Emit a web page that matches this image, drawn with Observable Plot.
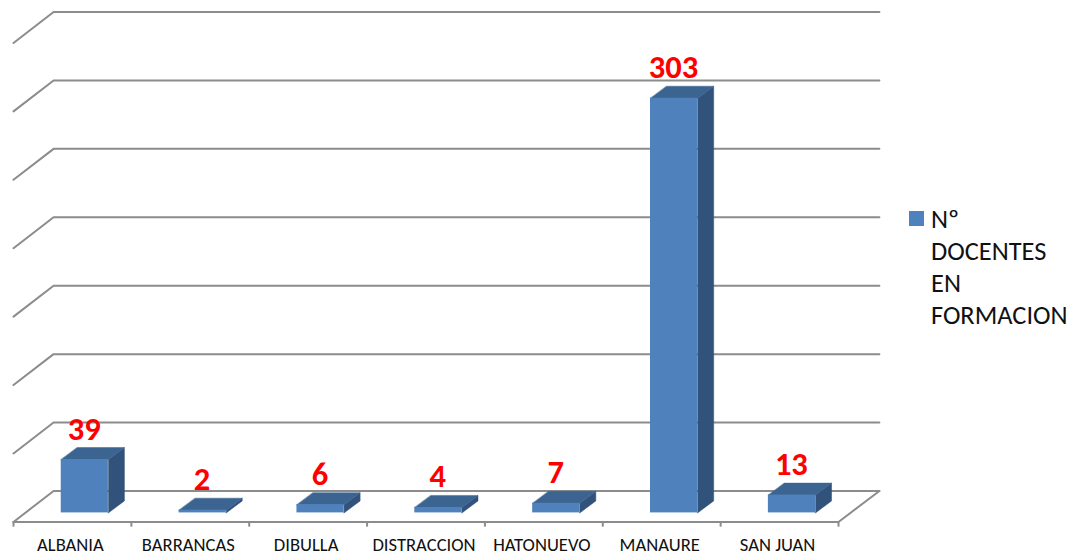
<!DOCTYPE html>
<html>
<head>
<meta charset="utf-8">
<script src="https://cdn.jsdelivr.net/npm/d3@7"></script>
<script src="https://cdn.jsdelivr.net/npm/@observablehq/plot@0.6"></script>
<style>
html,body{margin:0;padding:0;background:#fff;overflow:hidden}
#wrap{position:relative;width:1071px;height:557px}
#legend{position:absolute;left:909px;top:203px;font:26.4px/32px Carlito,Lato,sans-serif;color:#111;display:flex}
#legend i{display:block;width:15px;height:15px;background:#4F81BD;margin:8px 7px 0 0;flex:none}
</style>
</head>
<body>
<div id="wrap"><div id="legend"><i></i><span id="legendText"></span></div></div>
<script>
const categories = ["ALBANIA","BARRANCAS","DIBULLA","DISTRACCION","HATONUEVO","MANAURE","SAN JUAN"];
const values = [39,2,6,4,7,303,13];
const gridLevels = [0,50,100,150,200,250,300,350];
const seriesName = ["Nº","DOCENTES","EN","FORMACION"];

// Depth of the 3D box, in data units of the two scales
const wallDx = 0.34, wallDy = 22.6, wallDxRight = 0.347;
const barInset = 0.405, barWidth = 0.4;
const barFloor = -16, barDx = 0.136, barDy = 8.76;

const rows = values.map((v,i)=>({
  i, v, name:categories[i],
  x1:i+barInset, x2:i+barInset+barWidth,
  y1:barFloor, y2:barFloor+v
}));
const sides = rows.flatMap(r=>[
  {z:r.i,x:r.x2,y:r.y1},{z:r.i,x:r.x2+barDx,y:r.y1+barDy},
  {z:r.i,x:r.x2+barDx,y:r.y2+barDy},{z:r.i,x:r.x2,y:r.y2}
]);
const tops = rows.flatMap(r=>[
  {z:r.i,x:r.x1,y:r.y2},{z:r.i,x:r.x2,y:r.y2},
  {z:r.i,x:r.x2+barDx,y:r.y2+barDy},{z:r.i,x:r.x1+barDx,y:r.y2+barDy}
]);
const walls = gridLevels.flatMap(l=>[
  {z:l,x:0,y:l-wallDy},{z:l,x:wallDx,y:l},{z:l,x:7+wallDxRight,y:l}
]);
const floorEdge = [
  {x:0,y:-wallDy},{x:7,y:-wallDy},{x:7+wallDxRight,y:0}
];
const tickPos = d3.range(0,8);

const grid = {stroke:"#8c8c8c",strokeWidth:2};
const chart = Plot.plot({
  width:1071,height:557,margin:0,
  x:{domain:[0,7],range:[13,838],axis:null},
  y:{domain:[0,350],range:[490.5,11.5],axis:null},
  style:{background:"#fff",fontFamily:"Carlito,Lato,sans-serif"},
  marks:[
    Plot.line(walls,{x:"x",y:"y",z:"z",...grid}),
    Plot.line(floorEdge,{x:"x",y:"y",...grid}),
    Plot.ruleX(tickPos,{x:d=>d,y1:-wallDy,y2:-wallDy-3.8,...grid}),
    Plot.line(sides,{x:"x",y:"y",z:"z",curve:"linear-closed",fill:"#31537B",stroke:"#31537B",strokeWidth:0.5}),
    Plot.line(tops,{x:"x",y:"y",z:"z",curve:"linear-closed",fill:"#3C6491",stroke:"#3C6491",strokeWidth:0.5}),
    Plot.rect(rows,{x1:"x1",x2:"x2",y1:"y1",y2:"y2",fill:"#4F81BD"}),
    Plot.text(rows,{x:d=>(d.x1+d.x2)/2-0.005,y:"y2",text:d=>String(d.v),fill:"#ff0000",fontWeight:"bold",fontSize:32.5,lineAnchor:"bottom",dy:-20}),
    Plot.text(rows,{x:d=>d.i+0.5,y:-wallDy,text:"name",fill:"#111",fontSize:18.6,lineAnchor:"middle",dy:23,dx:-2})
  ]
});
document.getElementById("wrap").prepend(chart);
document.getElementById("legendText").innerHTML = seriesName.join("<br>");
</script>
</body>
</html>
